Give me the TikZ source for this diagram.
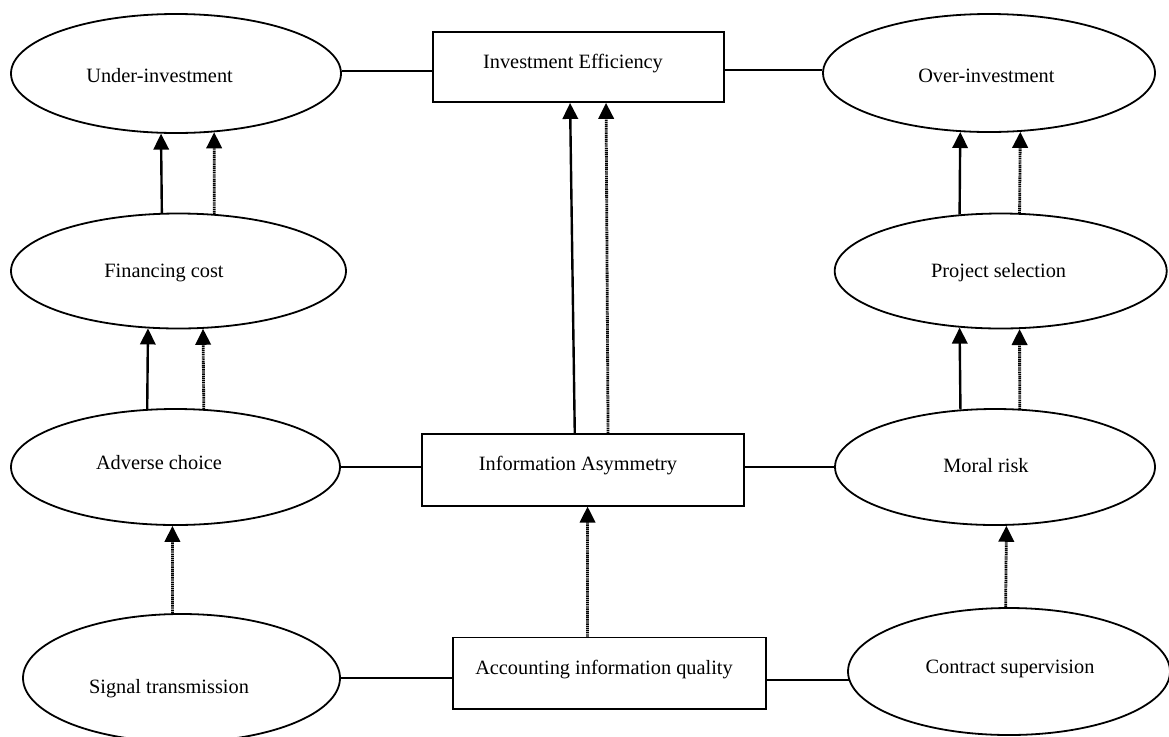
\documentclass[tikz,border=0pt]{standalone}
\usepackage{fontspec}
\setmainfont{Liberation Serif}
\usetikzlibrary{arrows.meta,calc,shapes.geometric}
\begin{document}
\begin{tikzpicture}[x=0.75pt,y=-0.75pt,
  ell/.style 2 args={ellipse,draw,line width=1.35pt,inner sep=0pt,
     minimum width={2*#1*0.75pt},minimum height={2*#2*0.75pt}},
  boxnode/.style 2 args={rectangle,draw,line width=1.4pt,inner sep=0pt,
     minimum width={#1*0.75pt},minimum height={#2*0.75pt}},
  lbl/.style={inner sep=0pt,text height=0.7em,text depth=0.22em,
     font=\fontsize{15.25pt}{18pt}\selectfont},
  link/.style={line width=1.4pt},
  solidarrow/.style={line width=1.8pt,-{Triangle[length=12pt,width=11.5pt]}},
  dotarrow/.style={line width=2.1pt,dash pattern=on 0.9pt off 0.5pt,
     -{Triangle[length=12pt,width=11.5pt]}}]
\clip (0,0) rectangle (1169,736);
\fill[white] (0,0) rectangle (1169,736);

% ellipses
\node[ell={165}{59.5}] (ue) at (176,73.5) {};
\node[ell={167.5}{57.5}] (fc) at (178.5,271) {};
\node[ell={164.5}{58}] (ad) at (175.5,467) {};
\node[ell={158.5}{64}] (st) at (181.5,678) {};
\node[ell={166}{59}] (oe) at (989,73) {};
\node[ell={166}{57.5}] (ps) at (1000.7,271) {};
\node[ell={160}{58}] (mr) at (995,467) {};
\node[ell={161}{63.5}] (cs) at (1009,671.5) {};

% boxes
\node[boxnode={291.3}{70}] (ie) at (578.65,67) {};
\node[boxnode={322.8}{71.6}] (ia) at (583,469.8) {};
\node[boxnode={313.1}{71.5}] (aiq) at (609.15,673.25) {};

% labels
\node[lbl] (tue) at (159.6,79) {Under-investment};
\node[lbl] (tfc) at (164,274.6) {Financing cost};
\node[lbl] (tad) at (159,466) {Adverse choice};
\node[lbl] (tst) at (169,690) {Signal transmission};
\node[lbl] (toe) at (986.4,79) {Over-investment};
\node[lbl] (tps) at (998.6,274.6) {Project selection};
\node[lbl] (tmr) at (986,469.5) {Moral risk};
\node[lbl] (tcs) at (1010,670) {Contract supervision};
\node[lbl] (tie) at (573,65) {Investment Efficiency};
\node[lbl] (tia) at (578,467) {Information Asymmetry};
\node[lbl] (taiq) at (604,671) {Accounting information quality};

% horizontal links
\draw[link] (ue.1) -- (ue.1 -| ie.west);
\draw[link] (ie.east |- oe.179) -- (oe.179);
\draw[link] (ad.-0.4) -- (ad.-0.4 -| ia.west);
\draw[link] (ia.east |- mr.180) -- (mr.180);
\draw[link] (st.-0.94) -- (st.-0.94 -| aiq.west);
\draw[link] (aiq.east |- cs.183.3) -- (cs.183.3);

% left column arrows
\draw[solidarrow] (fc.106.5) -- (ue.256.3);
\draw[dotarrow] (fc.58.7) -- (ue.-57.7);
\draw[solidarrow] (ad.116.2) -- (fc.-118.8);
\draw[dotarrow] (ad.64.6) -- (fc.-67.0);
\draw[dotarrow] (st.98.8) -- (ad.-93.8);

% right column arrows
\draw[solidarrow] (ps.126.1) -- (oe.-116.5);
\draw[dotarrow] (ps.72.5) -- (oe.-62.9);
\draw[solidarrow] (mr.121.7) -- (ps.-126.1);
\draw[dotarrow] (mr.67.5) -- (ps.-72.5);
\draw[dotarrow] (cs.93.1) -- (mr.-79.6);

% centre arrows
\draw[solidarrow] ($(ia.north west)+(154.1,0)$) -- ($(ie.south west)+(138,0)$);
\draw[dotarrow] ($(ia.north west)+(187.4,0)$) -- ($(ie.south west)+(174,0)$);
\draw[dotarrow] ($(aiq.north west)+(135.9,0)$) -- ($(ia.south west)+(166.9,0)$);
\end{tikzpicture}
\end{document}
